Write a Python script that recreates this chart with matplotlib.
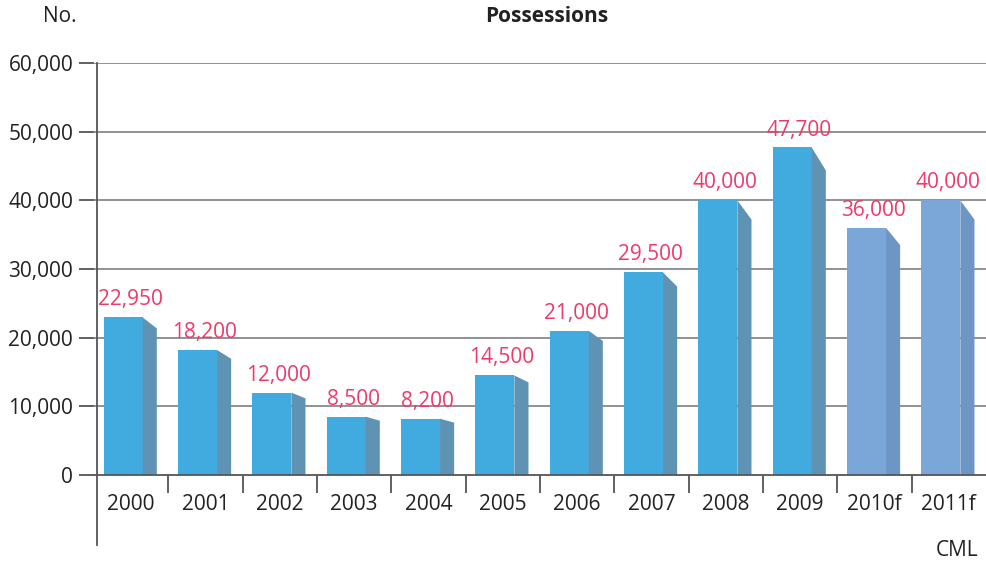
import matplotlib
matplotlib.use("Agg")
import matplotlib.pyplot as plt
from matplotlib.patches import Polygon

plt.rcParams['font.family'] = ['Open Sans', 'DejaVu Sans']

years = ["2000", "2001", "2002", "2003", "2004", "2005", "2006", "2007", "2008", "2009", "2010f", "2011f"]
values = [22950, 18200, 12000, 8500, 8200, 14500, 21000, 29500, 40000, 47700, 36000, 40000]
labels = ["22,950", "18,200", "12,000", "8,500", "8,200", "14,500", "21,000", "29,500", "40,000", "47,700", "36,000", "40,000"]
forecast = [False] * 10 + [True, True]
yticks = [0, 10000, 20000, 30000, 40000, 50000, 60000]
ytick_labels = ["0", "10,000", "20,000", "30,000", "40,000", "50,000", "60,000"]

front_col = "#41abe0"
side_col = "#5f93b3"
front_fc = "#7aa6d8"
side_fc = "#6e96c4"
label_col = "#ee3a6a"
grid_col = "#7f7f7f"
FS = 15

fig = plt.figure(figsize=(9.87, 5.62), dpi=100)
ax = fig.add_axes([94 / 987, 1 - 475 / 562, (986 - 94) / 987, (475 - 63) / 562])
ax.set_xlim(-0.5, 11.5)
ax.set_ylim(0, 60000)

for y in yticks[1:]:
    ax.axhline(y, color=grid_col, lw=1.2, zorder=1)

off = 0.13
fw = 0.525
sw = 0.19
for i, v in enumerate(values):
    fc = front_fc if forecast[i] else front_col
    sc = side_fc if forecast[i] else side_col
    x0 = i - 0.5 + off
    ax.bar(x0, v, width=fw, align='edge', color=fc, zorder=3, linewidth=0)
    slope = 0.07 * v
    xr = x0 + fw
    poly = Polygon([(xr, v), (xr + sw, v - slope), (xr + sw, 0), (xr, 0)],
                   closed=True, facecolor=sc, edgecolor='none', zorder=3)
    ax.add_patch(poly)
    ax.annotate(labels[i], (x0 + (fw + sw) / 2, v), xytext=(0, 5), textcoords='offset points',
                ha='center', va='bottom', color=label_col, fontsize=FS, zorder=4)

for s in ['top', 'right']:
    ax.spines[s].set_visible(False)
ax.spines['bottom'].set_color('#555555')
ax.spines['bottom'].set_linewidth(1.3)
ax.spines['bottom'].set_zorder(5)
ax.spines['left'].set_visible(False)
# left axis line extending below
ax.plot([-0.5 + 3 / 74.4] * 2, [-0.17 * 60000, 60000], color='#555555', lw=1.3,
        clip_on=False, zorder=5)

ax.set_yticks(yticks)
ax.set_yticklabels(ytick_labels, fontsize=FS, color='#222222')
ax.tick_params(axis='y', length=11, width=1.3, color='#555555', pad=4)

ax.set_xticks(range(len(years)))
ax.set_xticklabels(years, fontsize=FS, color='#222222')
ax.tick_params(axis='x', which='major', length=0, pad=14)
ax.set_xticks([i + 0.5 for i in range(len(years) - 1)], minor=True)
ax.tick_params(axis='x', which='minor', length=13, width=1.3, color='#555555')

fig.text(60 / 987, 1 - 16 / 562, "No.", fontsize=FS, ha='center', va='center', color='#222222')
fig.text(547 / 987, 1 - 17 / 562, "Possessions", fontsize=FS, fontweight='bold',
         ha='center', va='center', color='#222222')
fig.text(978 / 987, 1 - 550 / 562, "CML", fontsize=FS, ha='right', va='center', color='#222222')

fig.savefig("out.png", dpi=100)
